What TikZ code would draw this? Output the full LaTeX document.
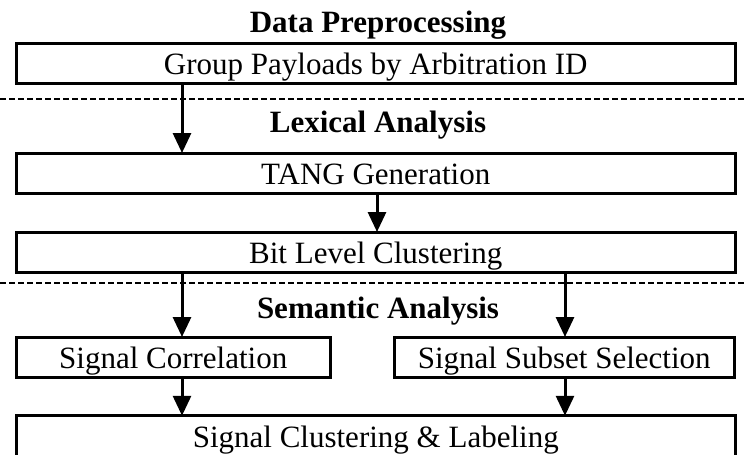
\documentclass[tikz,border=0pt]{standalone}
\usepackage{fontspec}
\setmainfont{Liberation Serif}
\usetikzlibrary{arrows.meta}

\begin{document}
\begin{tikzpicture}[x=1pt, y=-1pt,
  every node/.style={font=\fontsize{31}{36}\selectfont},
  stepbox/.style={draw, line width=3pt, inner sep=0pt, outer sep=0pt,
    text height=22pt, text depth=0pt, minimum height=40.5pt},
  phase/.style={anchor=base, font=\fontsize{31}{36}\selectfont\bfseries},
  flow/.style={line width=3pt, -{Triangle[length=20pt, width=18pt]}},
  divider/.style={line width=1.4pt, dash pattern=on 6pt off 3pt}]
  \useasboundingbox (0,0) rectangle (745,455);

  % phase titles
  \node[phase] (t1) at (378,32) {Data Preprocessing};
  \node[phase] (t2) at (378,132) {Lexical Analysis};
  \node[phase] (t3) at (378,318) {Semantic Analysis};

  % processing steps
  \node[stepbox, minimum width=718.5pt] (b1) at (375.75,63.25) {Group Payloads by Arbitration ID};
  \node[stepbox, minimum width=718.5pt] (b2) at (375.75,173.25) {TANG Generation};
  \node[stepbox, minimum width=718.5pt] (b3) at (375.75,252.25) {Bit Level Clustering};
  \node[stepbox, minimum width=313.5pt] (b4) at (173.25,357.25) {Signal Correlation};
  \node[stepbox, minimum width=340.5pt] (b5) at (564.25,357.25) {Signal Subset Selection};
  \node[stepbox, minimum width=718.5pt] (b6) at (375.75,436) {Signal Clustering \& Labeling};

  % phase separators
  \coordinate (d1a) at (0,99);   \coordinate (d1b) at (745,99);
  \coordinate (d2a) at (0,283);  \coordinate (d2b) at (745,283);
  \draw[divider] (d1a) -- (d1b);
  \draw[divider] (d2a) -- (d2b);

  % arrow columns
  \coordinate (xl) at (182,0);
  \coordinate (xm) at (377,0);
  \coordinate (xr) at (565,0);

  \draw[flow] (b1.south -| xl) -- (b2.north -| xl);
  \draw[flow] (b2.south -| xm) -- (b3.north -| xm);
  \draw[flow] (b3.south -| xl) -- (b4.north -| xl);
  \draw[flow] (b3.south -| xr) -- (b5.north -| xr);
  \draw[flow] (b4.south -| xl) -- (b6.north -| xl);
  \draw[flow] (b5.south -| xr) -- (b6.north -| xr);
\end{tikzpicture}
\end{document}
